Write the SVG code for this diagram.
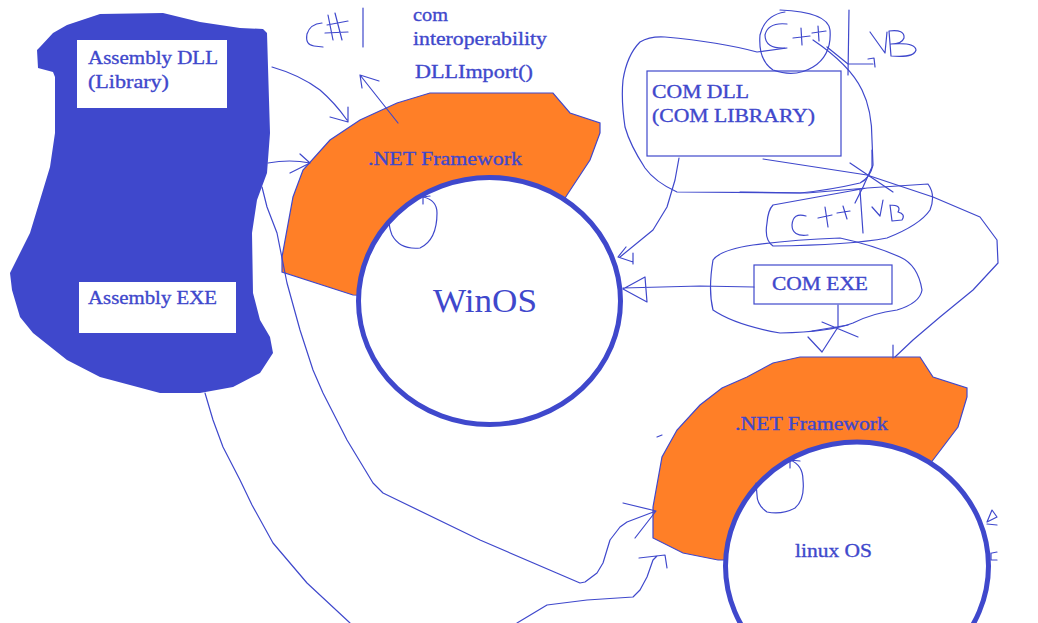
<svg xmlns="http://www.w3.org/2000/svg" width="1038" height="623" viewBox="0 0 1038 623">
<style>
.t{font-family:"Liberation Serif","Times New Roman",serif;fill:#3f48cc;stroke:#3f48cc;stroke-width:0.35;}
.big{stroke-width:0;}
.ln{fill:none;stroke:#3f48cc;stroke-width:1.2;stroke-linejoin:round;stroke-linecap:round;}
.org{fill:#ff7f27;stroke:#3f48cc;stroke-width:1.2;}
.os{fill:#ffffff;stroke:#3f48cc;stroke-width:5;}
.box{fill:#ffffff;stroke:none;}
.bx{fill:#ffffff;stroke:#3f48cc;stroke-width:1.2;}
</style>
<rect width="1038" height="623" fill="#ffffff"/>

<g id="assembly">
<path d="M 40,47 L 37,50 L 38,68 L 53,72 L 55,77 L 55,133 L 50,167 L 30,233 L 10,273 L 12,290 L 20,317 L 33,333 L 67,360 L 100,377 L 160,393 L 200,393 L 233,387 L 260,373 L 273,353 L 270,337 L 260,320 L 253,293 L 252,233 L 257,200 L 267,173 L 270,133 L 268,67 L 267,33 L 263,29 L 240,28 L 200,22 L 163,13 L 100,14 L 67,25 L 53,33 Z" fill="#3f48cc"/>
</g>
<g id="assembly-dll">
<rect class="box" x="77" y="40" width="150" height="68"/>
<text class="t" x="88" y="64" font-size="19" textLength="130" lengthAdjust="spacingAndGlyphs">Assembly DLL</text>
<text class="t" x="88" y="88" font-size="19" textLength="81" lengthAdjust="spacingAndGlyphs">(Library)</text>
</g>
<g id="assembly-exe">
<rect class="box" x="79" y="282" width="157" height="51"/>
<text class="t" x="88" y="304" font-size="19" textLength="129" lengthAdjust="spacingAndGlyphs">Assembly EXE</text>
</g>

<g id="win-framework">
<path class="org" d="M 282,272 L 282,257 L 293,197 L 303,170 L 330,140 L 360,120 L 397,103 L 430,93 L 553,93 L 570,113 L 600,123 L 600,133 L 590,160 L 567,195 L 500,300 L 353,295 Z"/>
<text class="t" x="368" y="165" font-size="19" textLength="154" lengthAdjust="spacingAndGlyphs">.NET Framework</text>
</g>
<g id="winos">
<ellipse class="os" cx="489.5" cy="301" rx="131" ry="123.5"/>
<text class="t big" x="433" y="312" font-size="33" textLength="104" lengthAdjust="spacingAndGlyphs">WinOS</text>
</g>

<g id="linux-framework">
<path class="org" d="M 653,538 L 653,507 L 662,457 L 677,430 L 700,405 L 722,388 L 747,377 L 773,363 L 800,357 L 920,357 L 933,377 L 967,388 L 967,397 L 958,427 L 933,460 L 860,560 L 718,560 L 683,553 Z"/>
<text class="t" x="735" y="430" font-size="19" textLength="153" lengthAdjust="spacingAndGlyphs">.NET Framework</text>
</g>
<g id="linuxos">
<ellipse class="os" cx="857" cy="566" rx="131.5" ry="124"/>
<text class="t" x="795" y="557" font-size="19" textLength="77" lengthAdjust="spacingAndGlyphs">linux OS</text>
</g>

<g id="com-dll">
<rect class="bx" x="647" y="71" width="194" height="85"/>
<text class="t" x="652" y="98" font-size="19" textLength="97" lengthAdjust="spacingAndGlyphs">COM DLL</text>
<text class="t" x="652" y="122" font-size="19" textLength="163" lengthAdjust="spacingAndGlyphs">(COM LIBRARY)</text>
</g>
<g id="com-exe">
<rect class="bx" x="754" y="265" width="138" height="39"/>
<text class="t" x="772" y="290" font-size="19" textLength="96" lengthAdjust="spacingAndGlyphs">COM EXE</text>
</g>

<g id="notes">
<text class="t" x="413" y="21" font-size="19" textLength="35" lengthAdjust="spacingAndGlyphs">com</text>
<text class="t" x="413" y="45" font-size="19" textLength="134" lengthAdjust="spacingAndGlyphs">interoperability</text>
<text class="t" x="415" y="78" font-size="19" textLength="118" lengthAdjust="spacingAndGlyphs">DLLImport()</text>
<path class="ln" d="M 322,23 Q 310,24 307,34 Q 305,45 314,46 L 323,47 M 328,15 L 333,40 M 335,13 L 342,40 M 327,25 L 348,21 M 325,33 L 348,32 M 363,8 L 363,47"/>
<path class="ln" d="M 780,10 Q 828,12 830,30 Q 832,55 813,67 Q 795,78 773,70 Q 758,60 760,35 Q 765,15 785,12"/>
<path class="ln" d="M 787,24 Q 768,22 765,35 Q 765,49 785,48 M 793,38 L 810,36 M 801,28 L 802,45 M 812,33 L 826,31 M 818,26 L 819,41 M 849,10 L 848,75"/>
<path class="ln" d="M 870,32 L 885,53 L 887,32 M 889,31 L 891,56 M 889,31 Q 905,29 904,38 Q 902,44 891,44 Q 915,42 916,50 Q 914,58 891,56"/>
<path class="ln" d="M 740,192 L 807,193 L 867,188 L 928,184 Q 936,195 930,210 Q 920,225 887,238 Q 850,245 773,246 Q 764,240 767,223 Q 768,210 773,205 L 867,188"/>
<path class="ln" d="M 806,216 Q 793,212 792,225 Q 792,237 808,235 M 818,218 L 832,215 M 825,207 L 828,227 M 837,213 L 850,211 M 843,206 L 847,219 M 860,190 L 863,233 M 872,207 L 880,216 L 883,200 M 890,205 L 892,221 M 890,205 Q 902,205 898,212 Q 906,214 902,220 L 892,221"/>
<path class="ln" d="M 813,40 Q 850,65 862,90 Q 872,110 872,140 L 873,165 Q 870,178 860,183 Q 830,190 800,193 L 677,192 Q 655,182 645,168 Q 630,145 625,127 Q 621,100 623,80 Q 627,55 640,42 Q 650,36 665,37 Q 720,42 757,52 L 787,48"/>
<path class="ln" d="M 872,150 L 872,167 L 863,187 L 855,203 M 850,163 L 893,192"/>
<path class="ln" d="M 753,245 Q 720,250 713,260 Q 708,290 713,310 Q 735,325 780,333 Q 830,332 853,323 Q 873,313 897,310 Q 920,303 922,290 Q 918,265 900,257 Q 873,245 840,238 Q 790,240 753,245"/>
<path class="ln" d="M 423,197 Q 437,200 437,213 Q 437,240 420,248 Q 400,250 392,235 Q 388,225 390,220 M 430,196 L 423,197 L 423,204"/>
<path class="ln" d="M 790,460 Q 803,465 803,480 Q 805,500 795,508 Q 782,515 767,512 Q 757,505 757,495 L 756,483 M 800,461 L 790,460 L 790,468"/>
</g>

<g id="connectors">
<path class="ln" d="M 272,67 Q 300,75 320,90 Q 335,103 347,120 M 330,117 L 348,122 L 348,107"/>
<path class="ln" d="M 268,163 Q 290,159 310,163 M 300,154 L 310,163 L 290,173"/>
<path class="ln" d="M 398,123 L 360,75 M 362,88 L 360,75 L 379,81"/>
<path class="ln" d="M 262,187 L 267,207 L 277,233 L 287,283 L 300,330 L 313,370 L 323,393 L 347,440 L 373,483 L 383,493 L 480,540 L 580,583 L 585,582 L 597,573 L 603,563 L 610,540 L 620,527 L 627,522 L 656,511 M 623,503 L 656,511 L 635,538"/>
<path class="ln" d="M 205,393 L 213,420 L 223,447 L 240,480 L 252,505 L 273,543 L 307,583 L 350,623"/>
<path class="ln" d="M 517,623 L 547,605 L 587,600 L 633,597 L 640,590 L 647,577 L 653,560 L 657,556 M 639,558 L 665,555 L 667,568"/>
<path class="ln" d="M 657,437 L 662,435"/>
<path class="ln" d="M 679,158 L 675,180 L 667,207 L 653,230 L 620,257 M 626,247 L 618,257 L 633,262 M 633,253 L 633,264"/>
<path class="ln" d="M 754,287 L 700,286 L 623,288 M 623,289 L 645,277 L 647,302 Z"/>
<path class="ln" d="M 827,47 L 848,64 L 873,64 M 868,59 L 874,58 L 875,67"/>
<path class="ln" d="M 763,159 L 867,175 L 933,197 L 980,217 L 997,240 L 998,263 L 973,290 L 940,317 L 913,340 L 895,357 M 893,345 L 893,358"/>
<path class="ln" d="M 838,305 L 838,327 L 822,352 M 808,337 L 822,352 M 822,322 L 858,337 M 812,331 L 848,325"/>
<path class="ln" d="M 992,510 L 997,517 L 987,522 Z M 987,524 L 997,525 M 992,553 L 997,552 M 991,553 L 991,560 L 997,560"/>
</g>
</svg>
